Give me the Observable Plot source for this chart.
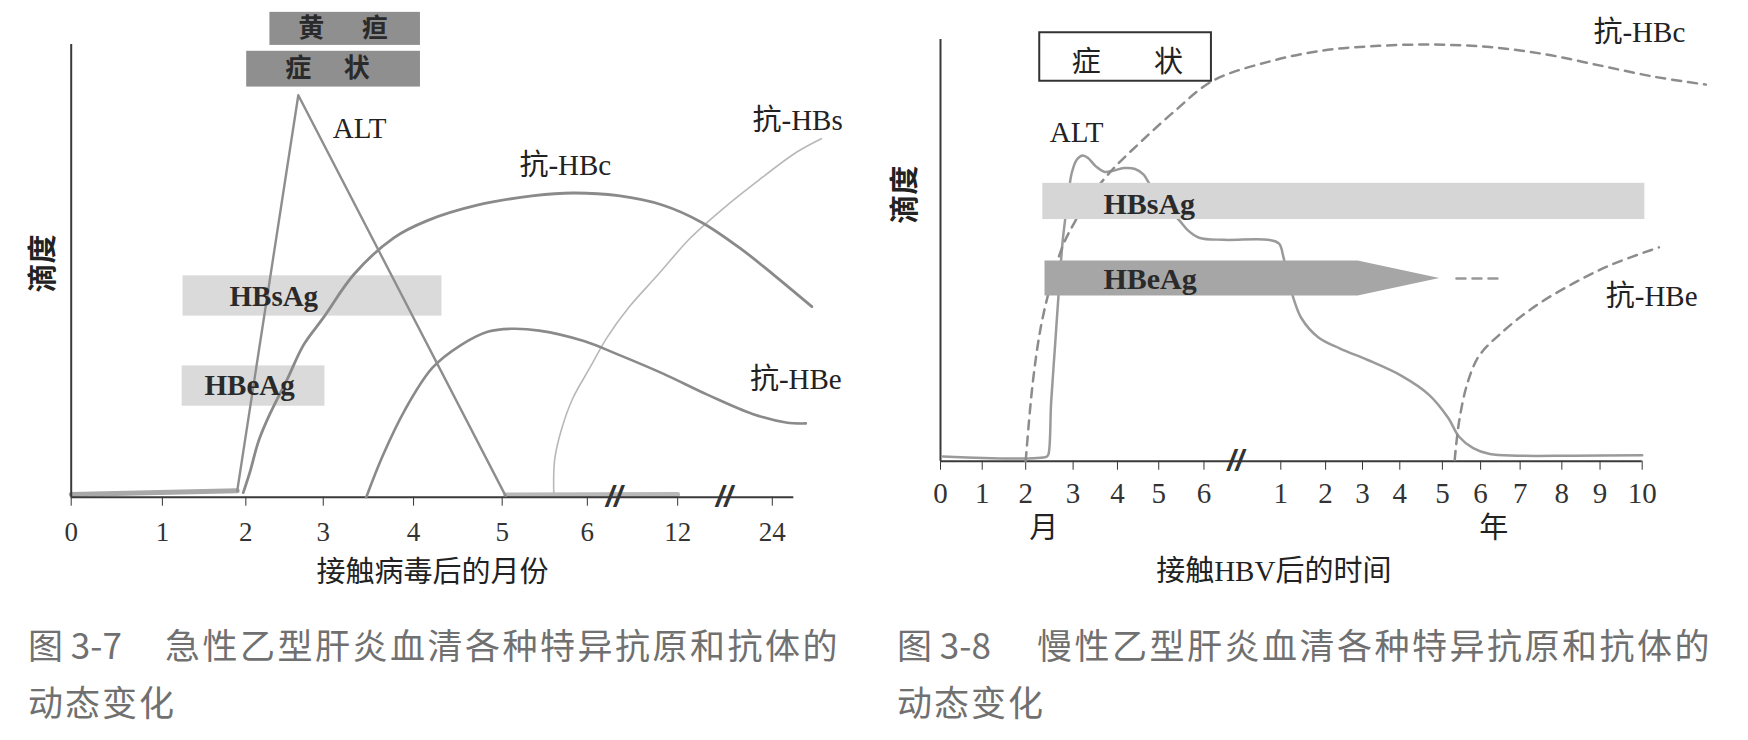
<!DOCTYPE html>
<html><head><meta charset="utf-8">
<script src="https://cdn.jsdelivr.net/npm/d3@7"></script>
<script src="https://cdn.jsdelivr.net/npm/@observablehq/plot@0.6"></script>
<style>
html,body{margin:0;padding:0;background:#fff;}
#page{position:relative;width:1748px;height:740px;overflow:hidden;background:#fff;}
.panel{position:absolute;top:0;height:600px;}
.cap{position:absolute;font-family:"Noto Sans CJK SC",sans-serif;font-size:35px;line-height:35px;color:#707070;white-space:pre;}
</style></head><body>
<div id="page"><div id="left" class="panel" style="left:0;width:880px"></div><div id="right" class="panel" style="left:880px;width:868px"></div></div>
<script>
// ================= 图 3-7 急性 (x = axis position; month ticks, breaks before 12 & 24) =================
const acuteTickLabels = ["0","1","2","3","4","5","6","12","24"];
const acuteTickPos    = [0, 1.06, 2.03, 2.93, 3.98, 5.01, 6.0, 7.05, 8.15];
const acuteBreakPos   = [6.31, 7.59];
const acuteBaseline1  = [[0,0.6],[1.93,1.4]];
const acuteBaseline2  = [[5.05,0.5],[7.05,0.6]];
const acuteALT        = [[1.93,1.4],[2.64,88.8],[5.05,0.3]];
const acuteAntiHBc    = [[2.0,1.0],[2.08,5.7],[2.18,12.5],[2.31,18.4],[2.51,26.0],[2.70,33.6],[2.93,39.6],[3.29,49.3],[3.75,57.3],[4.14,61.1],[4.72,64.5],[5.38,66.6],[5.83,67.2],[6.36,66.6],[6.88,64.5],[7.33,60.7],[7.79,54.8],[8.18,48.9],[8.61,42.1]];
const acuteAntiHBe    = [[3.43,0],[3.62,9.1],[3.88,19.3],[4.20,28.6],[4.53,33.6],[4.85,36.6],[5.12,37.2],[5.44,36.8],[5.96,34.5],[6.36,31.5],[6.88,27.3],[7.40,22.6],[7.92,18.4],[8.31,16.5],[8.54,16.3]];
const acuteAntiHBs    = [[5.61,0.5],[5.62,8.3],[5.70,15.0],[5.83,21.8],[6.03,28.6],[6.23,35.3],[6.49,42.1],[6.81,48.9],[7.20,57.3],[7.60,64.1],[7.99,70.0],[8.44,76.3],[8.72,79.2]];
const acuteBarLabels  = ["黄疸","症状","HBsAg","HBeAg"];
const acuteBarStart   = [2.31, 2.04, 1.30, 1.29];
const acuteBarEnd     = [4.06, 4.06, 4.31, 2.95];
const acuteBarLow     = [99.8, 90.6, 40.0, 20.1];
const acuteBarHigh    = [107.1, 98.5, 48.9, 29.0];
const acuteBoxChars   = ["黄","疸","症","状"];
const acuteBoxCharX   = [2.79, 3.53, 2.64, 3.32];
const acuteBoxCharY   = [103.5, 103.5, 94.6, 94.6];
const acuteCurveLabels = ["ALT","抗-HBc","抗-HBs","抗-HBe"];
const acuteCurveLabelX = [3.04, 5.21, 7.92, 7.89];
const acuteCurveLabelY = [81.4, 73.2, 83.1, 25.9];
const acuteBarText    = ["HBsAg","HBeAg"];
const acuteBarTextX   = [1.84, 1.55];
const acuteBarTextY   = [44.2, 24.6];
const acuteAxisTitle  = "接触病毒后的月份";
const yTitle          = "滴度";

// ================= 图 3-8 慢性 (x = axis position; months 0-6, then years 1-10) =================
const chronicTickLabels = ["0","1","2","3","4","5","6","1","2","3","4","5","6","7","8","9","10"];
const chronicTickPos    = [0,0.95,1.94,3.02,4.03,4.97,6.0,7.75,8.77,9.61,10.46,11.43,12.30,13.20,14.15,15.02,15.98];
const chronicBreakPos   = [6.72];
const chronicALT = [[0.05,1.1],[2.42,1.1],[2.46,1.7],[2.52,14.0],[2.61,27.6],[2.70,41.2],[2.79,53.0],[2.90,62.1],[2.99,68.4],[3.11,71.6],[3.24,72.5],[3.36,71.9],[3.55,69.8],[3.74,68.6],[3.93,68.9],[4.18,69.5],[4.43,69.3],[4.62,68.0],[4.75,65.9],[5.07,61.2],[5.44,57.1],[5.63,54.8],[5.89,53.0],[6.45,52.5],[7.46,52.5],[7.71,51.6],[7.81,48.4],[7.90,43.9],[8.03,38.9],[8.22,33.9],[8.60,29.4],[9.10,26.7],[9.73,24.0],[10.49,20.3],[11.12,15.8],[11.56,10.3],[11.81,5.8],[12.13,3.1],[12.51,1.7],[13.14,1.3],[14.40,1.3],[15.98,1.4]];
const chronicAntiHBc = [[1.94,0],[2.10,18.5],[2.29,32.1],[2.54,43.0],[2.79,51.2],[3.05,56.6],[3.43,63.0],[3.93,69.3],[4.56,75.7],[5.32,82.9],[6.20,90.2],[7.46,94.7],[8.72,97.4],[9.98,98.5],[11.25,98.8],[12.51,98.2],[13.77,96.5],[15.03,93.8],[16.29,91.1],[17.43,89.3]];
const chronicAntiHBe = [[11.71,0.3],[11.81,9.4],[12.0,18.5],[12.26,24.9],[12.76,30.3],[13.52,36.6],[14.40,42.1],[15.28,46.6],[16.36,50.7]];
const chronicHBsAgSpan = [2.33, 16.04];
const chronicHBsAgBand = [57.3, 65.9];
const chronicHBeAgSpan = [2.38, 9.51, 11.37];   // start, shaft end, arrow tip
const chronicHBeAgBand = [39.2, 47.5];
const chronicHBeAgTail = [11.75, 12.76];
const chronicSymptomSpan = [2.26, 6.17];
const chronicSymptomBand = [90.1, 101.6];
const chronicBoxChars  = ["症","状"];
const chronicBoxCharX  = [3.32, 5.19];
const chronicBoxCharY  = [94.6, 94.6];
const chronicCurveLabels = ["ALT","抗-HBc","抗-HBe"];
const chronicCurveLabelX = [2.49, 14.87, 15.15];
const chronicCurveLabelY = [78.0, 101.5, 39.1];
const chronicBarText  = ["HBsAg","HBeAg"];
const chronicBarTextX = [3.71, 3.71];
const chronicBarTextY = [60.9, 43.2];
const chronicUnits    = ["月","年"];
const chronicUnitX    = [2.35, 12.6];
const chronicAxisTitle = "接触HBV后的时间";

// ================= captions =================
const captionNumbers = ["图 3-7","图 3-8"];
const captionTitles  = ["急性乙型肝炎血清各种特异抗原和抗体的","慢性乙型肝炎血清各种特异抗原和抗体的"];
const captionTails   = ["动态变化","动态变化"];

// ---------------------------------------------------------------
const serif = "'Liberation Serif','Noto Sans CJK SC',serif";
const cjk = "'Noto Sans CJK SC','Liberation Serif',sans-serif";
const xy = {x: d => d[0], y: d => d[1]};
const zipText = (t, xs, ys) => t.map((s, i) => ({s, x: xs[i], y: ys[i]}));
const breakStyle = {text: () => "//", fontFamily: "Liberation Sans", fontSize: 30, fontWeight: "bold", fontStyle: "italic", fill: "#333"};

const acuteBars = acuteBarLabels.map((label, i) => ({label, x1: acuteBarStart[i], x2: acuteBarEnd[i], y1: acuteBarLow[i], y2: acuteBarHigh[i]}));

const left = Plot.plot({
  width: 880, height: 600,
  marginLeft: 70.7, marginRight: 86.7, marginTop: 44, marginBottom: 103.3,
  style: {fontFamily: serif, fontSize: "27px", color: "#333", background: "transparent", overflow: "visible"},
  x: {domain: [0, 8.4], ticks: acuteTickPos, tickFormat: d => acuteTickLabels[acuteTickPos.indexOf(d)], tickSize: 9, tickPadding: 16, label: null},
  y: {domain: [0, 100], axis: null},
  marks: [
    Plot.rect(acuteBars, {x1: "x1", x2: "x2", y1: "y1", y2: "y2", fill: d => /^H/.test(d.label) ? "#dadada" : "#8f8f8f"}),
    Plot.line(acuteBaseline1, {...xy, stroke: "#a8a8a8", strokeWidth: 5}),
    Plot.line(acuteBaseline2, {...xy, stroke: "#b8b8b8", strokeWidth: 5}),
    Plot.ruleY([0], {x1: 0, x2: 8.4, stroke: "#3a3a3a", strokeWidth: 2}),
    Plot.ruleX([0], {y1: 0, y2: 100, stroke: "#3a3a3a", strokeWidth: 2}),
    Plot.line(acuteAntiHBs, {...xy, curve: "catmull-rom", stroke: "#b8b8b8", strokeWidth: 1.6}),
    Plot.line(acuteAntiHBe, {...xy, curve: "catmull-rom", stroke: "#8a8a8a", strokeWidth: 2.6}),
    Plot.line(acuteAntiHBc, {...xy, curve: "catmull-rom", stroke: "#8a8a8a", strokeWidth: 2.8}),
    Plot.line(acuteALT, {...xy, stroke: "#8e8e8e", strokeWidth: 2.4}),
    Plot.text(acuteBreakPos, {x: d => d, y: 0, ...breakStyle}),
    Plot.text(zipText(acuteBoxChars, acuteBoxCharX, acuteBoxCharY), {x: "x", y: "y", text: "s", fontFamily: cjk, fontSize: 26, fontWeight: "bold", fill: "#2a2a2a"}),
    Plot.text(zipText(acuteCurveLabels, acuteCurveLabelX, acuteCurveLabelY), {x: "x", y: "y", text: "s", textAnchor: "start", fontSize: 29, fill: "#222"}),
    Plot.text(zipText(acuteBarText, acuteBarTextX, acuteBarTextY), {x: "x", y: "y", text: "s", textAnchor: "start", fontSize: 29, fontWeight: "bold", fill: "#2a2a2a"}),
    Plot.text([acuteAxisTitle], {x: 4.20, y: -16.6, text: d => d, fontFamily: cjk, fontSize: 29, fill: "#222"}),
    Plot.text([yTitle], {x: -0.316, y: 51.6, text: d => d, rotate: -90, fontFamily: cjk, fontSize: 29, fontWeight: "bold", fill: "#222"})
  ]
});
document.getElementById("left").append(left);

const arrow = [
  {x: chronicHBeAgSpan[0], lo: chronicHBeAgBand[0], hi: chronicHBeAgBand[1]},
  {x: chronicHBeAgSpan[1], lo: chronicHBeAgBand[0], hi: chronicHBeAgBand[1]},
  {x: chronicHBeAgSpan[2], lo: (chronicHBeAgBand[0] + chronicHBeAgBand[1]) / 2, hi: (chronicHBeAgBand[0] + chronicHBeAgBand[1]) / 2}
];
const tailY = (chronicHBeAgBand[0] + chronicHBeAgBand[1]) / 2;

const right = Plot.plot({
  width: 868, height: 600,
  marginLeft: 60, marginRight: 106.3, marginTop: 39, marginBottom: 139.3,
  style: {fontFamily: serif, fontSize: "29px", color: "#333", background: "transparent", overflow: "visible"},
  x: {domain: [0, 15.98], ticks: chronicTickPos, tickFormat: d => chronicTickLabels[chronicTickPos.indexOf(d)], tickSize: 9, tickPadding: 12, label: null},
  y: {domain: [0, 100], axis: null},
  marks: [
    Plot.ruleY([0], {x1: 0, x2: 15.98, stroke: "#3a3a3a", strokeWidth: 2}),
    Plot.ruleX([0], {y1: 0, y2: 100, stroke: "#3a3a3a", strokeWidth: 2}),
    Plot.line(chronicALT, {...xy, curve: "catmull-rom", stroke: "#9a9a9a", strokeWidth: 2.5}),
    Plot.line(chronicAntiHBc, {...xy, curve: "catmull-rom", stroke: "#8c8c8c", strokeWidth: 2.5, strokeDasharray: "9,7"}),
    Plot.line(chronicAntiHBe, {...xy, curve: "catmull-rom", stroke: "#8c8c8c", strokeWidth: 2.5, strokeDasharray: "9,7"}),
    Plot.rect([chronicHBsAgSpan], {x1: d => d[0], x2: d => d[1], y1: chronicHBsAgBand[0], y2: chronicHBsAgBand[1], fill: "#d6d6d6"}),
    Plot.areaY(arrow, {x: "x", y1: "lo", y2: "hi", fill: "#a6a6a6"}),
    Plot.line([[chronicHBeAgTail[0], tailY], [chronicHBeAgTail[1], tailY]], {...xy, stroke: "#999", strokeWidth: 2.5, strokeDasharray: "9,7"}),
    Plot.rect([chronicSymptomSpan], {x1: d => d[0], x2: d => d[1], y1: chronicSymptomBand[0], y2: chronicSymptomBand[1], fill: "#fff", stroke: "#333", strokeWidth: 2}),
    Plot.text(chronicBreakPos, {x: d => d, y: 0, ...breakStyle}),
    Plot.text(zipText(chronicBoxChars, chronicBoxCharX, chronicBoxCharY), {x: "x", y: "y", text: "s", fontFamily: cjk, fontSize: 29, fill: "#222"}),
    Plot.text(zipText(chronicCurveLabels, chronicCurveLabelX, chronicCurveLabelY), {x: "x", y: "y", text: "s", textAnchor: "start", fontSize: 29, fill: "#222"}),
    Plot.text(zipText(chronicBarText, chronicBarTextX, chronicBarTextY), {x: "x", y: "y", text: "s", textAnchor: "start", fontSize: 30, fontWeight: "bold", fill: "#2a2a2a"}),
    Plot.text(chronicUnits, {x: (d, i) => chronicUnitX[i], y: -16.0, text: d => d, fontFamily: cjk, fontSize: 29, fill: "#222"}),
    Plot.text([chronicAxisTitle], {x: 7.59, y: -26.2, text: d => d, fontSize: 29, fill: "#222"}),
    Plot.text([yTitle], {x: -0.80, y: 63.2, text: d => d, rotate: -90, fontFamily: cjk, fontSize: 29, fontWeight: "bold", fill: "#222"})
  ]
});
document.getElementById("right").append(right);

// captions
const page = document.getElementById("page");
const capLayout = [
  {left: 28, top: 626, list: captionNumbers, idx: 0, ls: 0},
  {left: 165, top: 626, list: captionTitles, idx: 0, ls: 2.5},
  {left: 28, top: 683, list: captionTails, idx: 0, ls: 2},
  {left: 897, top: 626, list: captionNumbers, idx: 1, ls: 0},
  {left: 1037, top: 626, list: captionTitles, idx: 1, ls: 2.5},
  {left: 897, top: 683, list: captionTails, idx: 1, ls: 2}
];
for (const c of capLayout) {
  const div = document.createElement("div");
  div.className = "cap";
  div.style.left = c.left + "px";
  div.style.top = c.top + "px";
  div.style.letterSpacing = c.ls + "px";
  div.textContent = c.list[c.idx];
  page.append(div);
}
</script></body></html>
